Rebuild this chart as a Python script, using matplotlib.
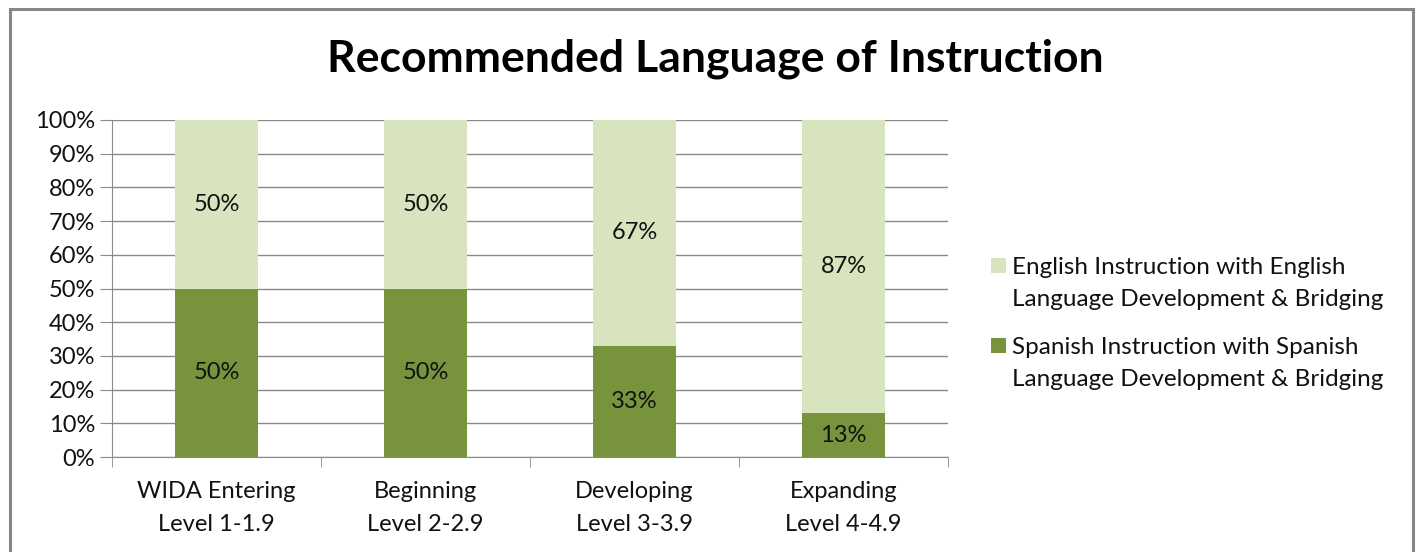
import matplotlib
matplotlib.use("Agg")
import matplotlib.pyplot as plt
from matplotlib.patches import Rectangle
import numpy as np

categories = ["WIDA Entering\nLevel 1-1.9", "Beginning\nLevel 2-2.9", "Developing\nLevel 3-3.9", "Expanding\nLevel 4-4.9"]
spanish = [50, 50, 33, 13]
english = [50, 50, 67, 87]
series_names = ["English Instruction with English\nLanguage Development & Bridging",
                "Spanish Instruction with Spanish\nLanguage Development & Bridging"]
yticks = [0, 10, 20, 30, 40, 50, 60, 70, 80, 90, 100]

plt.rcParams['font.family'] = ['Lato', 'DejaVu Sans']
W, H = 1420, 552
FS = 17
fig = plt.figure(figsize=(W/100, H/100), dpi=100)
# outer chart border (bottom edge runs off the picture)
fig.patches.append(Rectangle((9.5/W, -10/H), (1413-9.5)/W, (H-8.5+10)/H, transform=fig.transFigure,
                             fill=False, edgecolor='#868686', linewidth=2.2))

left, right, top, bottom = 112, 948, 120, 457
ax = fig.add_axes([left/W, 1-bottom/H, (right-left)/W, (bottom-top)/H])
x = np.arange(len(categories))
dark = '#77933C'
light = '#D7E4BD'
ax.bar(x, spanish, width=0.4, color=dark, zorder=3)
ax.bar(x, english, width=0.4, bottom=spanish, color=light, zorder=3)
for i in range(len(x)):
    ax.text(x[i], spanish[i]/2, f"{spanish[i]}%", ha='center', va='center', fontsize=FS, color='#111111', zorder=4)
    ax.text(x[i], spanish[i] + english[i]/2, f"{english[i]}%", ha='center', va='center', fontsize=FS, color='#111111', zorder=4)

ax.set_xlim(-0.5, len(categories)-0.5)
ax.set_ylim(0, 100)
ax.set_yticks(yticks)
ax.set_yticklabels([f"{v}%" for v in yticks], fontsize=FS, color='#111111')
ax.yaxis.grid(True, color='#8a8a8a', linewidth=1, zorder=0)
ax.set_xticks(x)
ax.set_xticklabels(categories, fontsize=FS, color='#111111', linespacing=1.75)
ax.tick_params(axis='x', length=0, pad=17)
ax.tick_params(axis='y', length=9, color='#8a8a8a', pad=3)
ax.set_xticks(np.arange(-0.5, len(categories), 1), minor=True)
ax.tick_params(axis='x', which='minor', length=7, color='#8a8a8a')
for s in ['top', 'right']:
    ax.spines[s].set_visible(False)
for s in ['left', 'bottom']:
    ax.spines[s].set_color('#8a8a8a')

fig.text(0.5035, 1-59/H, "Recommended Language of Instruction", ha='center', va='center',
         fontsize=32, fontweight='bold', color='#000000')

# legend drawn manually: square aligned with first text line
leg_colors = [light, dark]
leg_line1 = [267, 347]
for name, col, ly in zip(series_names, leg_colors, leg_line1):
    fig.patches.append(Rectangle((991/W, 1-(ly+6)/H), 15/W, 15/H, transform=fig.transFigure,
                                 facecolor=col, edgecolor='none'))
    for k, line in enumerate(name.split("\n")):
        fig.text(1012/W, 1-(ly + 33*k)/H, line, ha='left', va='center', fontsize=17.5, color='#111111')

fig.savefig("out.png", dpi=100)
